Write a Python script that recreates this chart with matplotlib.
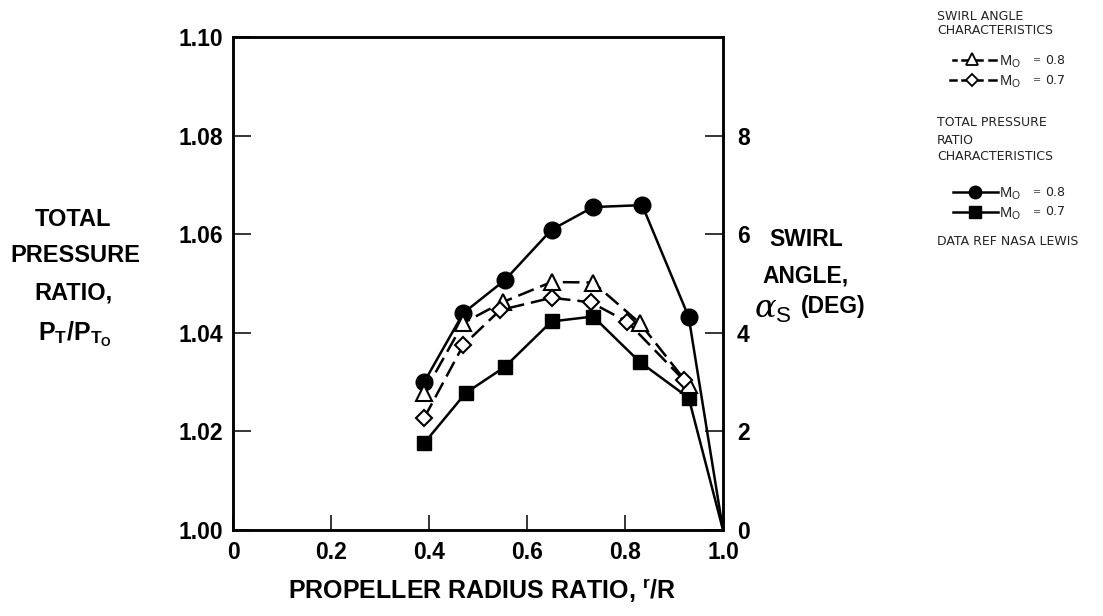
import matplotlib
matplotlib.use("Agg")
import matplotlib.pyplot as plt
from matplotlib.lines import Line2D

plt.rcParams['font.family'] = ['Liberation Sans', 'DejaVu Sans']
plt.rcParams['mathtext.fontset'] = 'custom'
plt.rcParams['mathtext.rm'] = 'Liberation Sans'
plt.rcParams['mathtext.bf'] = 'Liberation Sans:bold'
plt.rcParams['mathtext.it'] = 'DejaVu Serif:italic'
plt.rcParams['lines.scale_dashes'] = False

# ---- data ----
# total pressure ratio, M0 = 0.8 (filled circles); last point is the tip (no marker)
r_pt08 = [0.39, 0.47, 0.555, 0.65, 0.735, 0.835, 0.93, 1.0]
pt08 = [1.0300, 1.0440, 1.0507, 1.0609, 1.0655, 1.0659, 1.0432, 1.000]
# total pressure ratio, M0 = 0.7 (filled squares)
r_pt07 = [0.39, 0.475, 0.555, 0.65, 0.735, 0.83, 0.93, 1.0]
pt07 = [1.0176, 1.0278, 1.0331, 1.0423, 1.0433, 1.0341, 1.0268, 1.000]
# swirl angle (deg), M0 = 0.8 (open triangles)
r_sw08 = [0.39, 0.47, 0.55, 0.65, 0.735, 0.83, 0.93]
sw08 = [2.78, 4.20, 4.62, 5.03, 5.02, 4.20, 2.94]
# swirl angle (deg), M0 = 0.7 (open diamonds)
r_sw07 = [0.39, 0.47, 0.545, 0.65, 0.73, 0.805, 0.92]
sw07 = [2.27, 3.75, 4.46, 4.71, 4.62, 4.22, 3.04]

x_ticks = [0, 0.2, 0.4, 0.6, 0.8, 1.0]
x_ticklabels = ['0', '0.2', '0.4', '0.6', '0.8', '1.0']
pt_ticks = [1.00, 1.02, 1.04, 1.06, 1.08, 1.10]
pt_ticklabels = ['1.00', '1.02', '1.04', '1.06', '1.08', '1.10']
sw_ticks = [0, 2, 4, 6, 8]
sw_ticklabels = ['0', '2', '4', '6', '8']

W, H = 1103, 616
fig = plt.figure(figsize=(W / 100, H / 100), dpi=100)

def fx(px):
    return px / W

def fy(py):
    return 1 - py / H

ax = fig.add_axes([fx(233), fy(530), fx(723) - fx(233), fy(37) - fy(530)])
ax2 = ax.twinx()

lw = 1.8
for a in (ax, ax2):
    for s in a.spines.values():
        s.set_linewidth(lw)

ax.plot(r_pt08, pt08, color='black', lw=lw, marker='o', ms=12,
        markerfacecolor='black', markeredgecolor='black',
        markevery=list(range(len(r_pt08) - 1)), zorder=3)
ax.plot(r_pt07, pt07, color='black', lw=lw, marker='s', ms=10,
        markerfacecolor='black', markeredgecolor='black',
        markevery=list(range(len(r_pt07) - 1)), zorder=3)

ax2.plot(r_sw08, sw08, color='black', lw=lw, marker='^', ms=11.5,
         markerfacecolor='white', markeredgecolor='black', mew=1.5,
         dashes=(12, 5), zorder=3)
ax2.plot(r_sw07, sw07, color='black', lw=lw, marker='D', ms=8,
         markerfacecolor='white', markeredgecolor='black', mew=1.5,
         dashes=(12, 5), zorder=3)

ax.set_xlim(0, 1.0)
ax.set_ylim(1.00, 1.10)
ax2.set_ylim(0, 10)

ax.set_xticks(x_ticks)
ax.set_xticklabels(x_ticklabels)
ax.set_yticks(pt_ticks)
ax.set_yticklabels(pt_ticklabels)
ax2.set_yticks(sw_ticks)
ax2.set_yticklabels(sw_ticklabels)

ax.tick_params(axis='x', direction='in', length=11, width=1.1, pad=8,
               labelsize=16.5, top=False)
ax.tick_params(axis='y', direction='in', length=13, width=1.1, pad=7,
               labelsize=16.5)
ax2.tick_params(axis='y', direction='in', length=13, width=1.1, pad=10,
                labelsize=16.5)
for lab in ax.get_xticklabels() + ax.get_yticklabels() + ax2.get_yticklabels():
    lab.set_fontweight('bold')

# x label
fig.text(fx(482), fy(590), r'PROPELLER RADIUS RATIO, ${}^{\mathbf{r}}\mathbf{/R}$',
         ha='center', va='center', fontsize=18, fontweight='bold')

# left label
lab_kw = dict(ha='center', va='center', fontsize=17, fontweight='bold')
fig.text(fx(73), fy(219), 'TOTAL', **lab_kw)
fig.text(fx(75), fy(256), 'PRESSURE', **lab_kw)
fig.text(fx(73), fy(293), 'RATIO,', **lab_kw)
fig.text(fx(75), fy(334), r'$\mathbf{P}_{\mathbf{T}}\mathbf{/P}_{\mathbf{T}_{\mathbf{O}}}$',
         ha='center', va='center', fontsize=18)

# right label
sw_kw = dict(ha='center', va='center', fontsize=16.5, fontweight='bold')
fig.text(fx(806), fy(240), 'SWIRL', **sw_kw)
fig.text(fx(806), fy(276), 'ANGLE,', **sw_kw)
fig.text(fx(773), fy(310), r'$\alpha_{\mathrm{S}}$', ha='center', va='center',
         fontsize=23)
fig.text(fx(833), fy(307), '(DEG)', ha='center', va='center',
         fontsize=16.5, fontweight='bold')

# ---- legend (drawn in figure pixel coordinates) ----
leg_kw = dict(ha='left', va='center', fontsize=9, color='#222222',
              family='DejaVu Sans')
fig.text(fx(937), fy(17), 'SWIRL ANGLE', **leg_kw)
fig.text(fx(937), fy(31), 'CHARACTERISTICS', **leg_kw)
fig.text(fx(937), fy(122), 'TOTAL PRESSURE', **leg_kw)
fig.text(fx(937), fy(140), 'RATIO', **leg_kw)
fig.text(fx(937), fy(157), 'CHARACTERISTICS', **leg_kw)
fig.text(fx(937), fy(242), 'DATA REF NASA LEWIS', **leg_kw)

def seg(x0, x1, y, **kw):
    fig.add_artist(Line2D([fx(x0), fx(x1)], [fy(y), fy(y)],
                          transform=fig.transFigure, color='black', **kw))

# swirl legend rows
seg(953, 956, 60, lw=1.8)
seg(962, 982, 60, lw=1.8)
seg(989, 996, 60, lw=1.8)
fig.add_artist(Line2D([fx(972)], [fy(59)], transform=fig.transFigure,
                      marker='^', ms=8, mfc='white', mec='black', mew=1.3,
                      linestyle='none'))
seg(950, 956, 80, lw=1.8)
seg(962, 982, 80, lw=1.8)
seg(989, 996, 80, lw=1.8)
fig.add_artist(Line2D([fx(972)], [fy(80)], transform=fig.transFigure,
                      marker='D', ms=6, mfc='white', mec='black', mew=1.3,
                      linestyle='none'))

# pressure legend rows
seg(953, 998, 192, lw=1.8)
fig.add_artist(Line2D([fx(975)], [fy(192)], transform=fig.transFigure,
                      marker='o', ms=9, mfc='black', mec='black',
                      linestyle='none'))
seg(953, 998, 212, lw=1.8)
fig.add_artist(Line2D([fx(975)], [fy(212)], transform=fig.transFigure,
                      marker='s', ms=8, mfc='black', mec='black',
                      linestyle='none'))

for yy, val in [(60, '0.8'), (80, '0.7'), (192, '0.8'), (212, '0.7')]:
    fig.text(fx(999), fy(yy + 2), r'$\mathrm{M}_{\mathrm{O}}$', ha='left',
             va='center', fontsize=10.5, color='#222222')
    fig.text(fx(1033), fy(yy), '=', ha='left', va='center', fontsize=7,
             color='#444444', family='DejaVu Sans')
    fig.text(fx(1045), fy(yy), val, ha='left', va='center', fontsize=9,
             color='#222222', family='DejaVu Sans')

fig.savefig('out.png', dpi=100)
